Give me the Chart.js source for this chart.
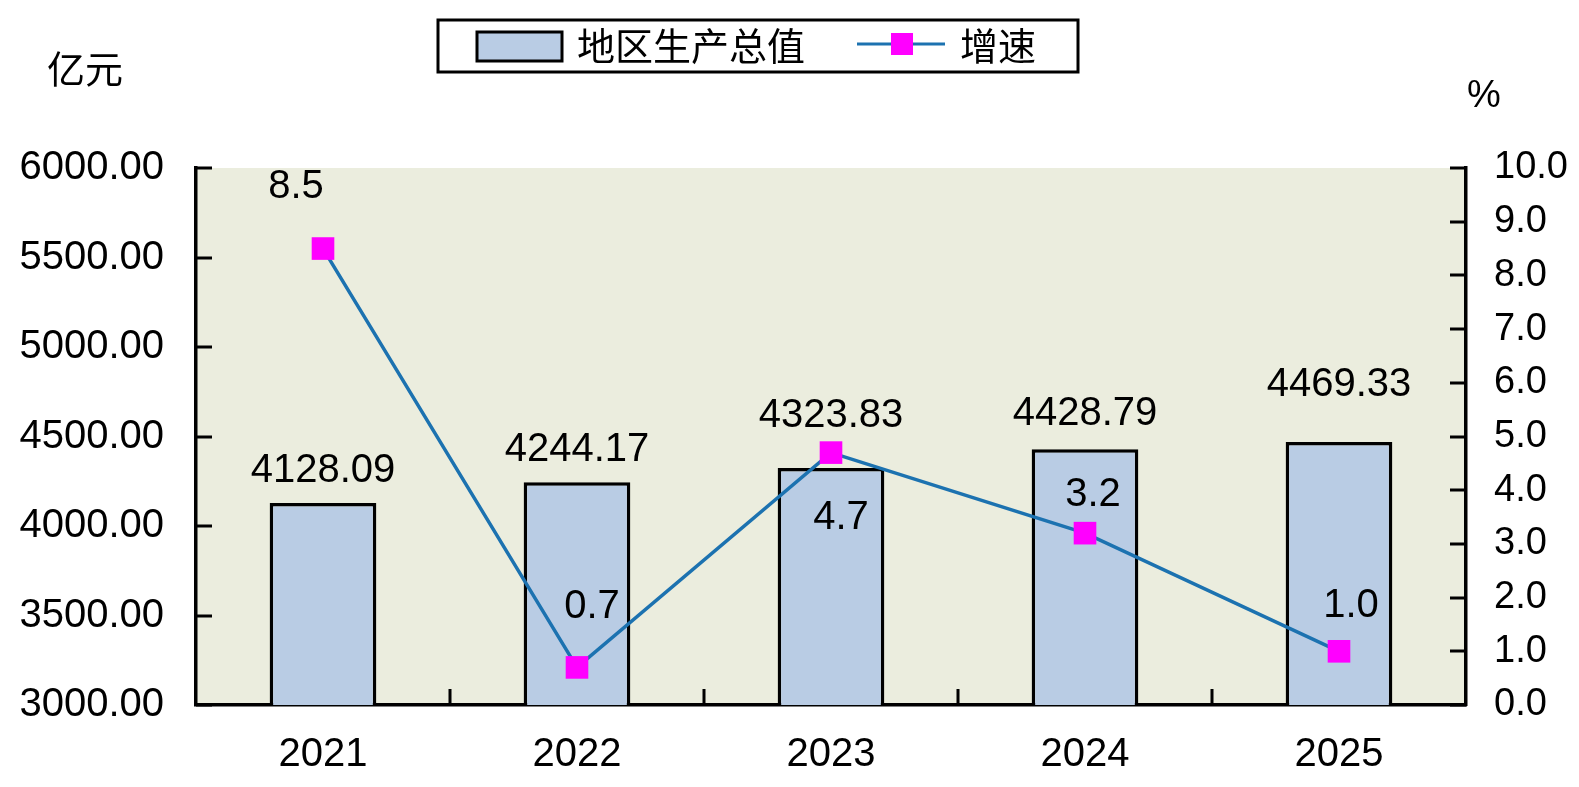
<!DOCTYPE html>
<html>
<head>
<meta charset="utf-8">
<script src="https://cdn.jsdelivr.net/npm/chart.js@4"></script>
<style>
  html, body { margin: 0; padding: 0; background: #fff; }
  #wrap { width: 1579px; height: 787px; }
</style>
</head>
<body>
<div id="wrap"><canvas id="gdpChart" width="1579" height="787"></canvas></div>
<script>
// data
const years = ["2021", "2022", "2023", "2024", "2025"];
const gdp = [4128.09, 4244.17, 4323.83, 4428.79, 4469.33];
const growth = [8.5, 0.7, 4.7, 3.2, 1.0];

const NUM_FONT = "'Liberation Sans', Arial, sans-serif";
const CJK_FONT = "'Noto Sans CJK SC', sans-serif";
const BAR_FILL = "#B9CCE4";
const LINE_COL = "#1C72B0";
const MARK_COL = "#FF00FF";

// label nudges (px) so the texts sit where they are in the original
const barLabelLift = [32, 32, 52, 35, 57];
const lineLabelShift = [[-27, -62], [15, -60], [10, 65], [8, -38], [12, -45]];

const plotBg = {
    id: "plotBg",
    beforeDraw(chart) {
        const a = chart.chartArea, ctx = chart.ctx;
        ctx.save();
        ctx.fillStyle = "#EBEDDE";
        ctx.fillRect(a.left, a.top, a.right - a.left, a.bottom - a.top);
        ctx.restore();
    }
};

const extras = {
    id: "extras",
    afterDraw(chart) {
        const ctx = chart.ctx;
        const x = chart.scales.x, y = chart.scales.y, y1 = chart.scales.y1;
        ctx.save();
        // tick marks pointing into the plot
        ctx.strokeStyle = "#000";
        ctx.lineWidth = 3;
        ctx.beginPath();
        y.ticks.forEach(t => {
            const py = Math.round(y.getPixelForValue(t.value));
            ctx.moveTo(y.right, py); ctx.lineTo(y.right + 16, py);
        });
        y1.ticks.forEach(t => {
            const py = Math.round(y1.getPixelForValue(t.value));
            ctx.moveTo(y1.left - 16, py); ctx.lineTo(y1.left, py);
        });
        const cw = (x.right - x.left) / years.length;
        for (let i = 1; i < years.length; i++) {
            const px = Math.round(x.left + i * cw);
            ctx.moveTo(px, x.top - 16); ctx.lineTo(px, x.top);
        }
        ctx.stroke();

        // value labels
        ctx.fillStyle = "#000";
        ctx.textAlign = "center";
        ctx.textBaseline = "middle";
        ctx.font = "40px " + NUM_FONT;
        const barMeta = chart.getDatasetMeta(1);
        barMeta.data.forEach((el, i) => {
            ctx.fillText(gdp[i].toFixed(2), el.x, el.y - barLabelLift[i]);
        });
        const lineMeta = chart.getDatasetMeta(0);
        lineMeta.data.forEach((el, i) => {
            const s = lineLabelShift[i];
            ctx.fillText(growth[i].toFixed(1), el.x + s[0], el.y + s[1]);
        });

        // unit labels
        ctx.textAlign = "left";
        ctx.font = "38px " + CJK_FONT;
        ctx.fillText("亿元", 47, 69);
        ctx.font = "38px " + NUM_FONT;
        ctx.fillText("%", 1467, 97);

        // legend
        ctx.lineWidth = 3;
        ctx.strokeRect(438, 20, 640, 52);
        ctx.fillStyle = BAR_FILL;
        ctx.fillRect(477, 32, 85, 29);
        ctx.strokeRect(477, 32, 85, 29);
        ctx.fillStyle = "#000";
        ctx.font = "38px " + CJK_FONT;
        ctx.fillText("地区生产总值", 577, 46);
        ctx.strokeStyle = LINE_COL;
        ctx.beginPath();
        ctx.moveTo(857, 44); ctx.lineTo(945, 44);
        ctx.stroke();
        ctx.fillStyle = MARK_COL;
        ctx.fillRect(891, 33, 22, 22);
        ctx.fillStyle = "#000";
        ctx.fillText("增速", 960, 46);
        ctx.restore();
    }
};

new Chart(document.getElementById("gdpChart"), {
    data: {
        labels: years,
        datasets: [
            {
                type: "line",
                label: "增速",
                data: growth,
                yAxisID: "y1",
                borderColor: LINE_COL,
                borderWidth: 3.5,
                tension: 0,
                pointStyle: "rect",
                pointRadius: 16,
                pointBackgroundColor: MARK_COL,
                pointBorderWidth: 0,
                order: 0
            },
            {
                type: "bar",
                label: "地区生产总值",
                data: gdp,
                yAxisID: "y",
                backgroundColor: BAR_FILL,
                borderColor: "#000",
                borderWidth: 3.5,
                barPercentage: 0.42,
                categoryPercentage: 1,
                order: 1
            }
        ]
    },
    options: {
        responsive: false,
        animation: false,
        devicePixelRatio: 1,
        layout: { padding: { top: 168, left: 0, right: 0, bottom: 0 } },
        plugins: {
            legend: { display: false },
            tooltip: { enabled: false }
        },
        scales: {
            x: {
                grid: { drawOnChartArea: false, drawTicks: false },
                border: { display: true, color: "#000", width: 3.5 },
                ticks: { color: "#000", font: { family: NUM_FONT, size: 40 }, padding: 26 },
                afterFit: s => { s.height = 82; }
            },
            y: {
                position: "left",
                min: 3000,
                max: 6000,
                grid: { drawOnChartArea: false, drawTicks: false },
                border: { display: true, color: "#000", width: 3.5 },
                ticks: {
                    stepSize: 500,
                    color: "#000",
                    padding: 32,
                    font: { family: NUM_FONT, size: 40 },
                    callback: v => v.toFixed(2)
                },
                afterFit: s => { s.width = 196; }
            },
            y1: {
                position: "right",
                min: 0,
                max: 10,
                grid: { drawOnChartArea: false, drawTicks: false },
                border: { display: true, color: "#000", width: 3.5 },
                ticks: {
                    stepSize: 1,
                    color: "#000",
                    padding: 28,
                    font: { family: NUM_FONT, size: 38 },
                    callback: v => v.toFixed(1)
                },
                afterFit: s => { s.width = 113; }
            }
        }
    },
    plugins: [plotBg, extras]
});
</script>
</body>
</html>
